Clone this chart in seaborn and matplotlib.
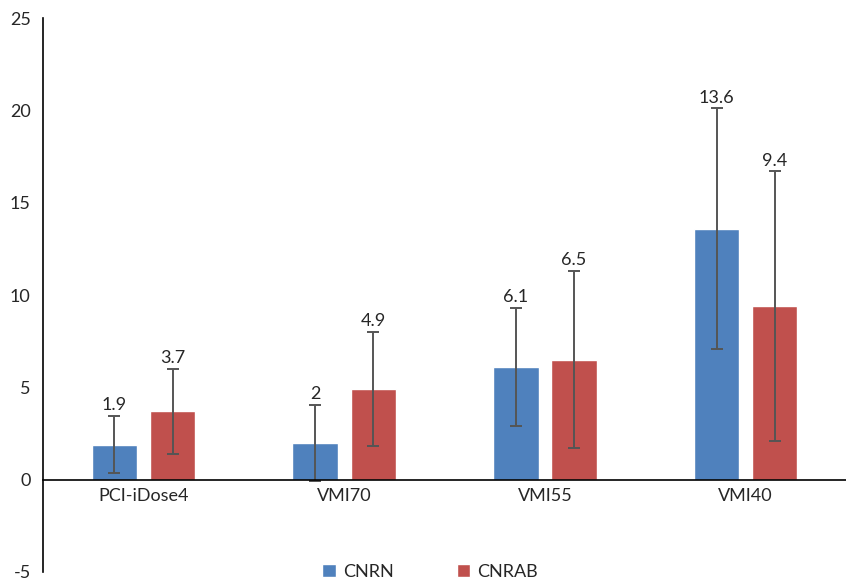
import pandas as pd
import seaborn as sns
import matplotlib.pyplot as plt

categories = ["PCI-iDose4", "VMI70", "VMI55", "VMI40"]
series = ["CNRN", "CNRAB"]
cnrn = [1.9, 2.0, 6.1, 13.6]
cnrab = [3.7, 4.9, 6.5, 9.4]
cnrn_sd = [1.55, 2.05, 3.2, 6.5]
cnrab_sd = [2.3, 3.1, 4.8, 7.3]
colors = ["#4F81BD", "#C0504D"]

df = pd.DataFrame({
    "Category": categories * 2,
    "Series": [series[0]] * 4 + [series[1]] * 4,
    "CNR": cnrn + cnrab,
})
sds = [cnrn_sd, cnrab_sd]
means = [cnrn, cnrab]

sns.set_style("white")
plt.rcParams["font.family"] = ["Lato", "DejaVu Sans"]
plt.rcParams["axes.unicode_minus"] = False

fig = plt.figure(figsize=(8.46, 5.81), dpi=100)
ax = fig.add_axes([0.051, 0.0155, 0.949, 0.9535])

sns.barplot(data=df, x="Category", y="CNR", hue="Series", palette=colors,
            width=0.58, gap=0.22, errorbar=None, saturation=1, ax=ax)

# error bars and value labels on top of them
for cont, m, sd in zip(ax.containers, means, sds):
    xs = [b.get_x() + b.get_width() / 2 for b in cont]
    ax.errorbar(xs, m, yerr=sd, fmt="none", ecolor="#555555",
                elinewidth=1.4, capsize=4, capthick=1.4)
    for x, v, s in zip(xs, m, sd):
        ax.annotate(f"{v:g}", (x, v + s), xytext=(0, 2),
                    textcoords="offset points", ha="center", va="bottom",
                    fontsize=13)

ax.set_ylim(-5, 25)
ax.set_xlim(-0.5, 3.5)
ax.set_yticks(range(-5, 26, 5))
ax.set_xlabel("")
ax.set_ylabel("")
for side in ["top", "right"]:
    ax.spines[side].set_visible(False)
ax.spines["bottom"].set_position(("data", 0))
for side in ["bottom", "left"]:
    ax.spines[side].set_color("black")
    ax.spines[side].set_linewidth(1.2)
ax.tick_params(axis="both", length=0, labelsize=13)
ax.tick_params(axis="y", pad=9)
ax.tick_params(axis="x", pad=6)

ax.legend(loc="center", bbox_to_anchor=(0.482, 0.0), ncol=2,
          frameon=False, fontsize=13, handlelength=0.75, handleheight=0.75,
          columnspacing=3.5, handletextpad=0.4)

plt.savefig("out.png", dpi=100)
